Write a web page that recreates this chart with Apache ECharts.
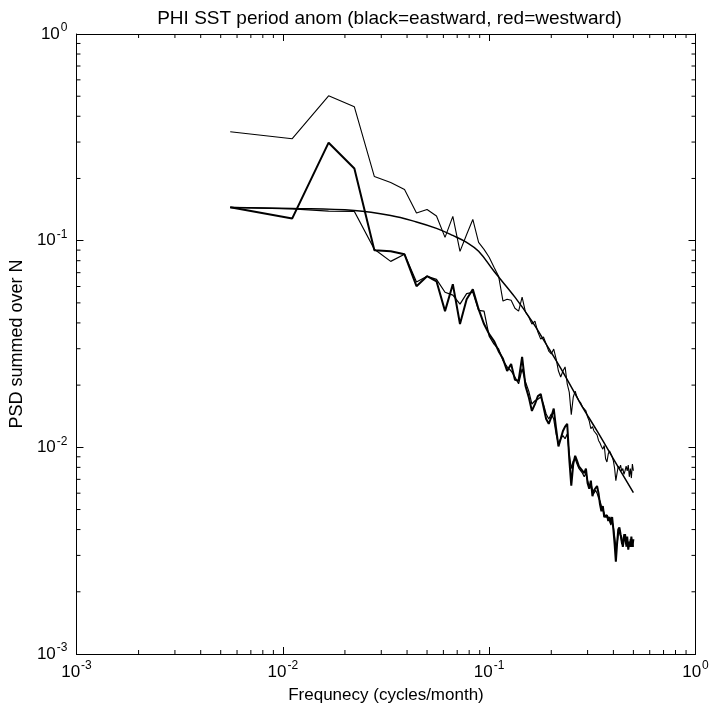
<!DOCTYPE html>
<html>
<head>
<meta charset="utf-8">
<script src="https://cdn.jsdelivr.net/npm/echarts@6/dist/echarts.min.js"></script>
<style>
html,body{margin:0;padding:0;background:#fff;}
#chart{width:712px;height:709px;}
</style>
</head>
<body>
<div id="chart"></div>
<script>
// Frequencies (cycles/month)
const freq = [0.00556,0.01111,0.01667,0.02222,0.02778,0.03333,0.03889,0.04444,0.05,0.05556,
0.06111,0.06667,0.07222,0.07778,0.08333,0.08889,0.09444,0.1,0.10556,0.11111,
0.11667,0.12222,0.12778,0.13333,0.13889,0.14444,0.15,0.15556,0.16111,0.16667,
0.17222,0.17778,0.18333,0.18889,0.19444,0.2,0.20556,0.21111,0.21667,0.22222,
0.22778,0.23333,0.23889,0.24444,0.25,0.25556,0.26111,0.26667,0.27222,0.27778,
0.28333,0.28889,0.29444,0.3,0.30556,0.31111,0.31667,0.32222,0.32778,0.33333,
0.33889,0.34444,0.35,0.35556,0.36111,0.36667,0.37222,0.37778,0.38333,0.38889,
0.39444,0.4,0.40556,0.41111,0.41667,0.42222,0.42778,0.43333,0.43889,0.44444,
0.45,0.45556,0.46111,0.46667,0.47222,0.47778,0.48333,0.48889,0.49444,0.5];

// Upper jagged spectrum (westward)
const westward = [0.3366,0.3114,0.502,0.4444,0.2043,0.1911,0.1768,0.1362,0.1416,0.1317,
0.1037,0.131,0.0888,0.1072,0.1267,0.0981,0.0908,0.0831,0.0743,0.0673,
0.051,0.0521,0.0515,0.0471,0.0456,0.0533,0.0451,0.0427,0.0395,0.0408,
0.0361,0.0334,0.0342,0.0316,0.0292,0.0283,0.0299,0.0268,0.0234,0.0219,
0.0234,0.0245,0.0203,0.0185,0.0144,0.0175,0.0187,0.0175,0.0168,0.0164,
0.0157,0.0154,0.015,0.014,0.0134,0.0123,0.0126,0.012,0.0122,0.0115,
0.0108,0.0105,0.0101,0.0098,0.0102,0.0088,0.0085,0.0093,0.0096,0.0093,
0.009,0.0086,0.0079,0.0069,0.0075,0.0081,0.0079,0.0082,0.0077,0.0079,
0.0074,0.0077,0.0081,0.0077,0.0082,0.0072,0.0079,0.0071,0.0083,0.0077];

// Lower thick spectrum (eastward)
const eastward = [0.145,0.1281,0.2979,0.2233,0.0898,0.0888,0.0859,0.0602,0.0673,0.0636,
0.0456,0.0616,0.0395,0.0521,0.0582,0.0466,0.0395,0.0353,0.0327,0.0292,
0.0268,0.0234,0.0253,0.0212,0.021,0.0274,0.0198,0.0175,0.015,0.0162,
0.0177,0.0181,0.0157,0.0137,0.013,0.014,0.0154,0.0123,0.0101,0.011,
0.012,0.0126,0.013,0.0088,0.00653,0.0083,0.0091,0.0086,0.0081,0.0082,
0.0077,0.0075,0.0079,0.0067,0.0063,0.0069,0.0058,0.0062,0.0063,0.0065,
0.006,0.0053,0.0049,0.0052,0.0046,0.0045,0.0047,0.0044,0.0046,0.0043,
0.0046,0.004,0.0034,0.0028,0.0034,0.004,0.0041,0.0038,0.0036,0.0033,
0.0036,0.0038,0.0034,0.0037,0.0032,0.0035,0.0033,0.0037,0.0033,0.0036];

// Lower thin spectrum
const eastwardThin = [0.145,0.1425,0.139,0.1385,0.0908,0.0794,0.0859,0.0631,0.0673,0.065,
0.0563,0.0545,0.0493,0.0554,0.0563,0.046,0.0456,0.0345,0.0316,0.0299,
0.0263,0.0245,0.0234,0.0219,0.0203,0.024,0.0207,0.0187,0.0162,0.0168,
0.0171,0.0175,0.0162,0.0145,0.0137,0.0145,0.0137,0.0116,0.0104,0.011,
0.0114,0.011,0.0116,0.0093,0.0079,0.0086,0.0088,0.0083,0.0079,0.0079,
0.0075,0.0072,0.0075,0.0069,0.0065,0.0067,0.0062,0.006,0.0062,0.006,
0.0057,0.0055,0.0052,0.005,0.0048,0.0046,0.0045,0.0046,0.0044,0.0042,
0.0044,0.0041,0.0037,0.0033,0.0034,0.0038,0.0039,0.0037,0.0034,0.0035,
0.0038,0.0036,0.0033,0.0035,0.0034,0.0033,0.0036,0.0033,0.0035,0.0033];

// Smooth red-noise curve
const fitFreq = [0.00556,0.01111,0.02222,0.03333,0.04444,0.05556,0.06667,0.07778,0.08889,0.10556,
0.13333,0.16111,0.18889,0.23333,0.27778,0.33333,0.4,0.5];
const fitPSD = [0.1447,0.1432,0.14,0.1324,0.1232,0.1147,0.106,0.0981,0.0888,0.0711,
0.0533,0.0408,0.0316,0.0222,0.0162,0.012,0.0088,0.00604];

const xTickLabels = ['10^-3','10^-2','10^-1','10^0'];
const yTickLabels = ['10^-3','10^-2','10^-1','10^0'];

const FONT = "'Liberation Sans', Arial, Helvetica, sans-serif";
const chart = echarts.init(document.getElementById('chart'), null, {renderer: 'canvas'});

function supLabel(v, list) {
  const e = Math.round(Math.log10(v));
  const s = list.find(t => t === '10^' + e);
  if (!s) return '';
  const parts = s.split('^');
  return '{b|' + parts[0] + '}{s|' + parts[1] + '}';
}
const rich = {
  b: {fontSize: 17, fontFamily: FONT, color: '#000'},
  s: {fontSize: 12, fontFamily: FONT, color: '#000', padding: [0, 0, 12, 1]}
};

const G = {left: 73.5, top: 34, width: 622, height: 622};

function pairs(xs, ys) { return xs.map((x, i) => [x, ys[i]]); }

const baseAxis = {
  type: 'log', logBase: 10, min: 0.001, max: 1,
  axisLine: {show: true, onZero: false, lineStyle: {color: '#000', width: 1}},
  axisTick: {show: true, inside: true, length: 7, lineStyle: {color: '#000', width: 1}},
  splitLine: {show: false}
};

const option = {
  animation: false,
  backgroundColor: '#fff',
  title: {
    text: 'PHI SST period anom (black=eastward, red=westward)',
    left: G.left + G.width / 2, top: 4, textAlign: 'center',
    textStyle: {fontFamily: FONT, fontSize: 19, fontWeight: 'normal', color: '#000'}
  },
  grid: {left: G.left, top: G.top, width: G.width, height: G.height, containLabel: false},
  xAxis: [
    Object.assign({}, baseAxis, {
      position: 'bottom',
      name: 'Frequnecy (cycles/month)', nameLocation: 'middle', nameGap: 33,
      nameTextStyle: {fontFamily: FONT, fontSize: 17, color: '#000', verticalAlign: 'top'},
      axisLabel: {show: true, margin: 6, formatter: v => supLabel(v, xTickLabels), rich: rich}
    }),
    Object.assign({}, baseAxis, {position: 'top', axisLabel: {show: false}})
  ],
  yAxis: [
    Object.assign({}, baseAxis, {
      position: 'left',
      name: 'PSD summed over N', nameLocation: 'middle', nameGap: 35,
      nameTextStyle: {fontFamily: FONT, fontSize: 18, color: '#000'},
      axisLabel: {show: true, margin: 9, formatter: v => supLabel(v, yTickLabels), rich: rich}
    }),
    Object.assign({}, baseAxis, {position: 'right', axisLabel: {show: false}})
  ],
  series: [
    {name: 'westward', type: 'line', data: pairs(freq, westward), showSymbol: false,
     lineStyle: {color: '#000', width: 1.1}, z: 3},
    {name: 'fit', type: 'line', data: pairs(fitFreq, fitPSD), showSymbol: false, smooth: 0.4,
     lineStyle: {color: '#000', width: 1.5}, z: 3},
    {name: 'eastward thin', type: 'line', data: pairs(freq, eastwardThin), showSymbol: false,
     lineStyle: {color: '#000', width: 1.2}, z: 3},
    {name: 'eastward', type: 'line', data: pairs(freq, eastward), showSymbol: false,
     lineStyle: {color: '#000', width: 2}, z: 4}
  ]
};
chart.setOption(option);

// minor ticks (2..9 within each decade) on all four sides
const minorVals = [];
for (let d = -3; d < 0; d++) for (let m = 2; m <= 9; m++) minorVals.push(m * Math.pow(10, d));
const x0 = chart.convertToPixel({xAxisIndex: 0}, 0.001);
const x1 = chart.convertToPixel({xAxisIndex: 0}, 1);
const y0 = chart.convertToPixel({yAxisIndex: 0}, 0.001);
const y1 = chart.convertToPixel({yAxisIndex: 0}, 1);
const L = 4;
const els = [];
minorVals.forEach(v => {
  const px = chart.convertToPixel({xAxisIndex: 0}, v);
  const py = chart.convertToPixel({yAxisIndex: 0}, v);
  els.push({type: 'line', shape: {x1: px, y1: y0, x2: px, y2: y0 - L}, style: {stroke: '#000', lineWidth: 1}});
  els.push({type: 'line', shape: {x1: px, y1: y1, x2: px, y2: y1 + L}, style: {stroke: '#000', lineWidth: 1}});
  els.push({type: 'line', shape: {x1: x0, y1: py, x2: x0 + L, y2: py}, style: {stroke: '#000', lineWidth: 1}});
  els.push({type: 'line', shape: {x1: x1, y1: py, x2: x1 - L, y2: py}, style: {stroke: '#000', lineWidth: 1}});
});
chart.setOption({graphic: {elements: els}});
</script>
</body>
</html>
